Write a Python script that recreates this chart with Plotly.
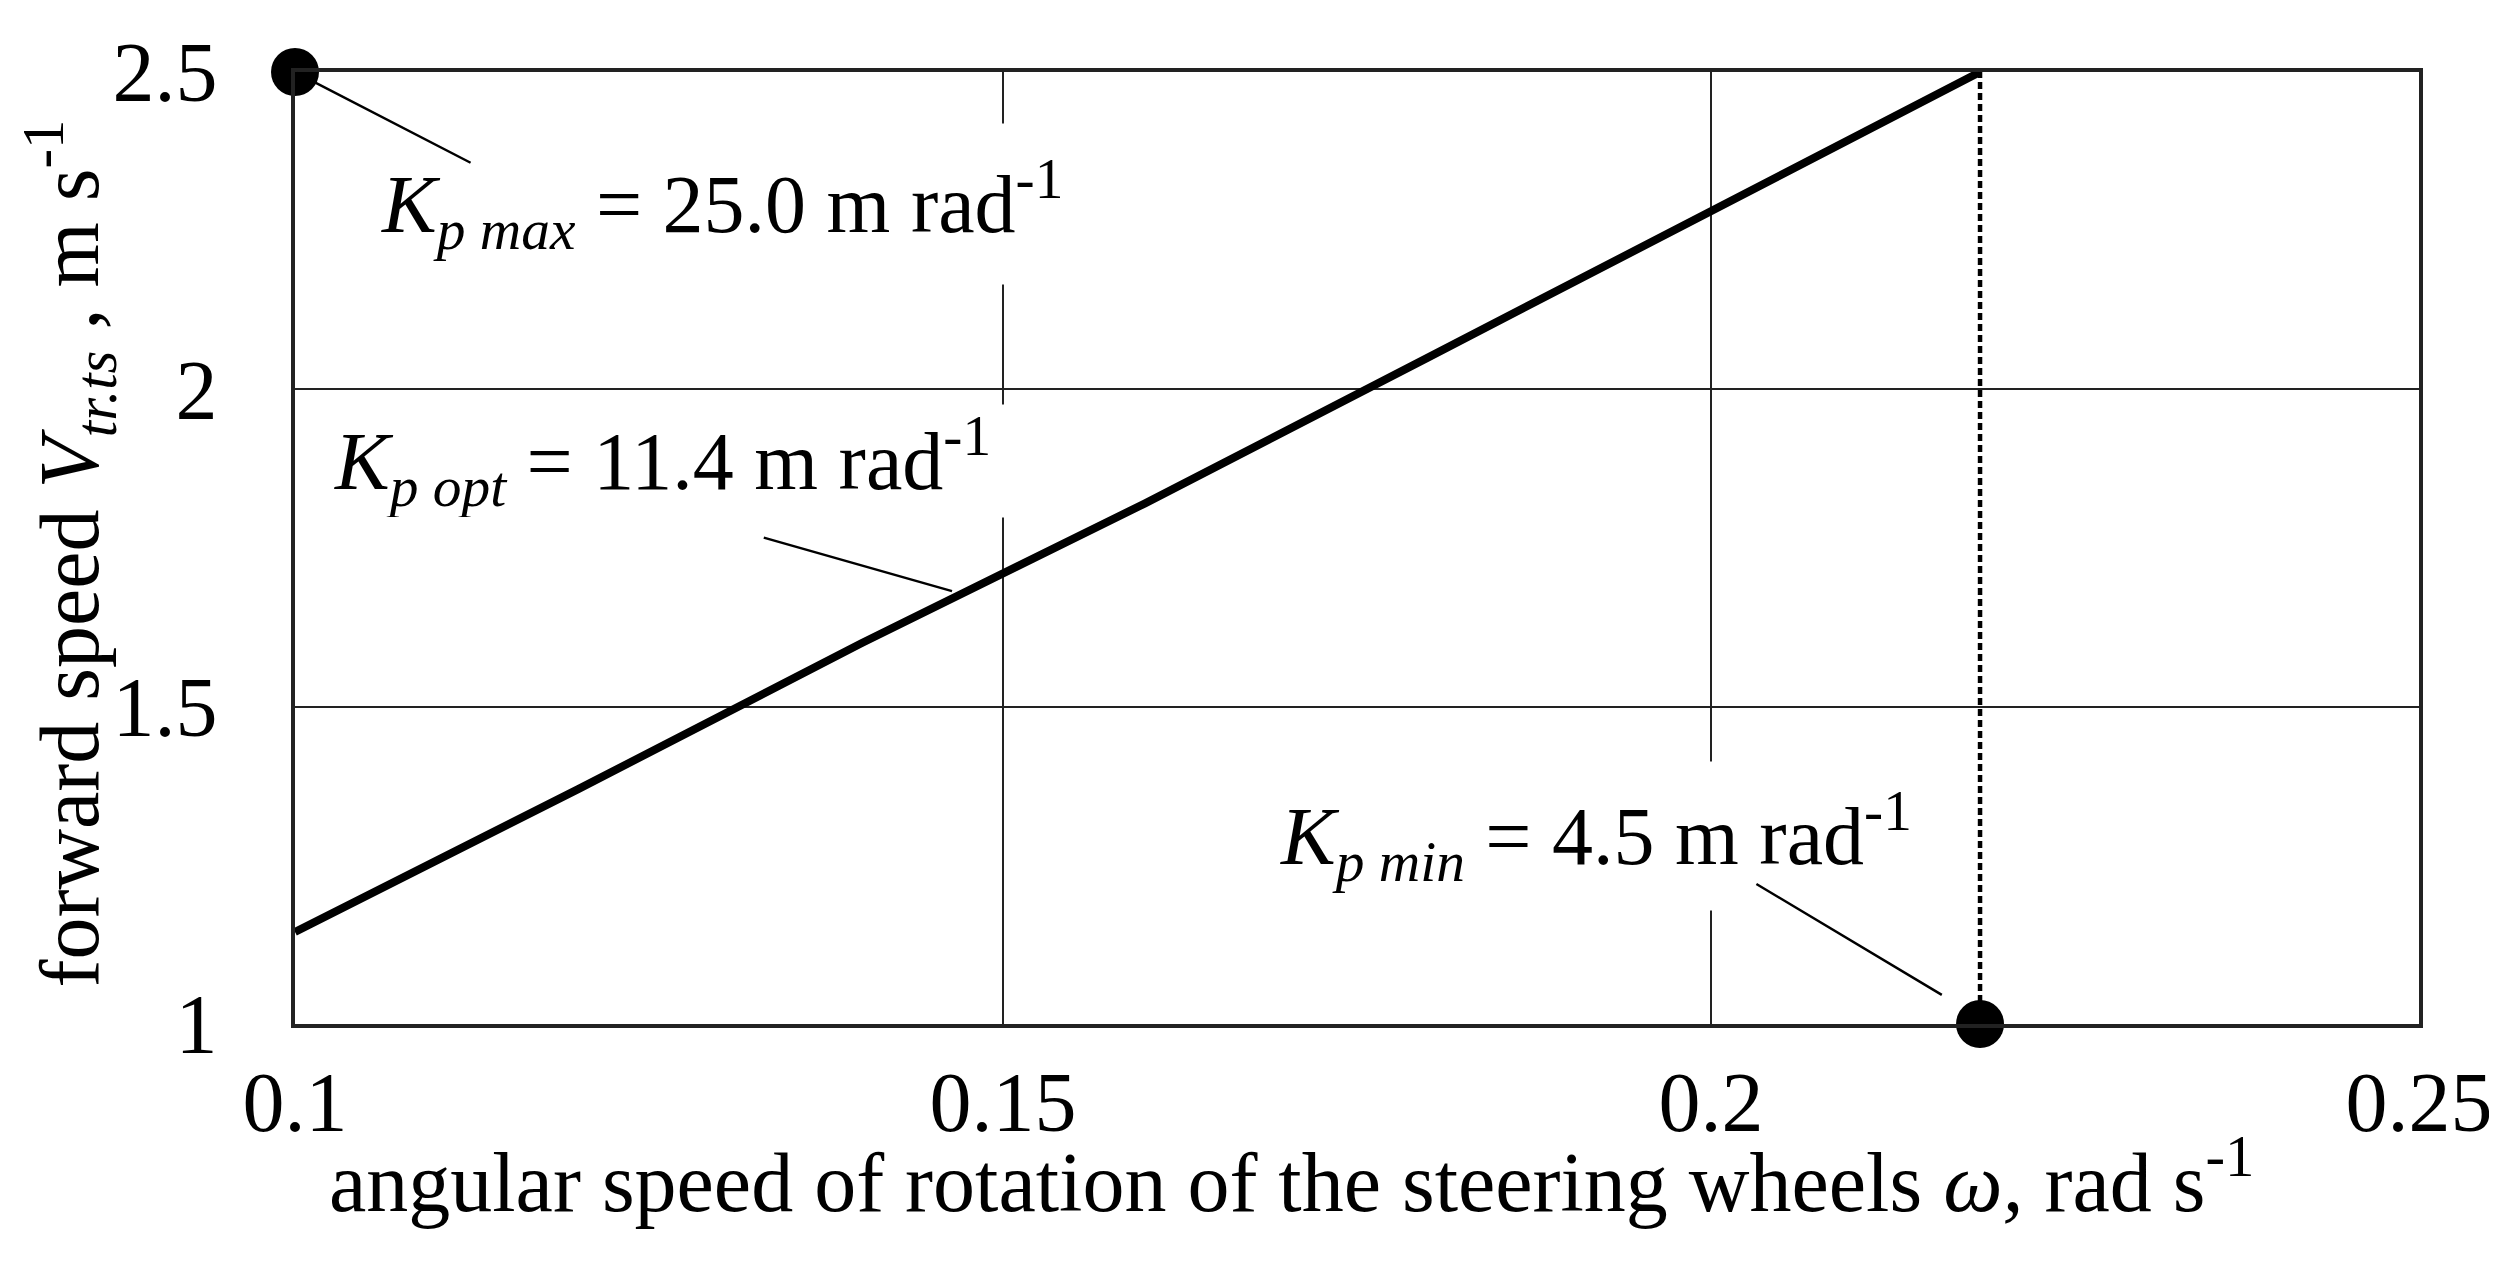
import plotly.graph_objects as go

# ---- data ----
omega = [0.100, 0.120, 0.140, 0.160, 0.180, 0.200, 0.219]
v_tr = [1.145, 1.37, 1.60, 1.82, 2.05, 2.28, 2.50]

limit_omega = [0.100, 0.219]          # Kp max point, Kp min point
limit_v = [2.5, 1.0]

dotted_omega = [0.219, 0.219]
dotted_v = [1.0, 2.5]

x_tickvals = [0.1, 0.15, 0.2, 0.25]
x_ticktext = ["0.1", "0.15", "0.2", "0.25"]
y_tickvals = [1, 1.5, 2, 2.5]
y_ticktext = ["1", "1.5", "2", "2.5"]

labels = [
    "<i>K</i><sub><i>p max</i></sub> = 25.0 m rad<sup>-1</sup>",
    "<i>K</i><sub><i>p opt</i></sub> = 11.4 m rad<sup>-1</sup>",
    "<i>K</i><sub><i>p min</i></sub> = 4.5 m rad<sup>-1</sup>",
]
# label placement (data coords: left edge x, middle y) and white box size
label_x = [0.1060, 0.1027, 0.1695]
label_y = [2.292, 1.887, 1.296]
label_w = [700, 690, 640]
label_h = [160, 112, 148]

# leader lines: start (ax, ay) -> end (x, y)
leader_start_x = [0.1000, 0.1330, 0.2031]
leader_start_y = [2.500, 1.767, 1.222]
leader_end_x = [0.1124, 0.1464, 0.2163]
leader_end_y = [2.357, 1.682, 1.046]

FONT = "Liberation Serif"
FS = 82

fig = go.Figure()
fig.add_trace(go.Scatter(x=omega, y=v_tr, mode="lines",
                         line=dict(color="black", width=8), showlegend=False))
fig.add_trace(go.Scatter(x=dotted_omega, y=dotted_v, mode="lines",
                         line=dict(color="black", width=4.5, dash="7px,4px"),
                         showlegend=False))
fig.add_trace(go.Scatter(x=limit_omega, y=limit_v, mode="markers",
                         marker=dict(color="black", size=48),
                         cliponaxis=False, showlegend=False))

annotations = []
for t, x, y, w, h in zip(labels, label_x, label_y, label_w, label_h):
    annotations.append(dict(
        text=t, x=x, y=y, xref="x", yref="y", xanchor="left", yanchor="middle",
        showarrow=False, bgcolor="white", width=w, height=h, align="left",
        valign="middle", borderpad=0,
        font=dict(family=FONT, size=FS, color="black")))
for sx, sy, ex, ey in zip(leader_start_x, leader_start_y, leader_end_x, leader_end_y):
    annotations.append(dict(
        text="", x=ex, y=ey, ax=sx, ay=sy, xref="x", yref="y", axref="x", ayref="y",
        showarrow=True, arrowhead=0, arrowwidth=2.5, arrowcolor="black",
        standoff=0, startstandoff=0))

annotations.append(dict(
    text="angular speed of rotation of the steering wheels <i>ω,</i> rad s<sup>-1</sup>",
    x=0.469, y=-0.16, xref="paper", yref="paper", xanchor="center", yanchor="middle",
    showarrow=False, font=dict(family=FONT, size=FS + 2, color="black")))
annotations.append(dict(
    text="forward speed <i>V</i><sub><i>tr.ts</i></sub> , m s<sup>-1</sup>",
    x=-0.106, y=0.494, xref="paper", yref="paper", xanchor="center", yanchor="middle",
    textangle=-90, showarrow=False, font=dict(family=FONT, size=FS + 2, color="black")))

fig.update_layout(
    width=2497, height=1262,
    margin=dict(l=287, r=84, t=64, b=246),
    paper_bgcolor="white", plot_bgcolor="white",
    font=dict(family=FONT, size=FS, color="black"),
    annotations=annotations,
)
fig.update_xaxes(range=[0.1, 0.25], tickvals=x_tickvals, ticktext=x_ticktext,
                 showgrid=True, gridcolor="#222", gridwidth=2,
                 showline=True, linecolor="#222", linewidth=3.5, mirror=True,
                 zeroline=False, ticks="", ticklabelstandoff=2,
                 tickfont=dict(family=FONT, size=FS + 2))
fig.update_yaxes(range=[1, 2.5], tickvals=y_tickvals, ticktext=y_ticktext,
                 showgrid=True, gridcolor="#222", gridwidth=2,
                 showline=True, linecolor="#222", linewidth=3.5, mirror=True,
                 zeroline=False, ticks="", ticklabelstandoff=57,
                 tickfont=dict(family=FONT, size=FS + 2))

fig.write_html("out.html")
